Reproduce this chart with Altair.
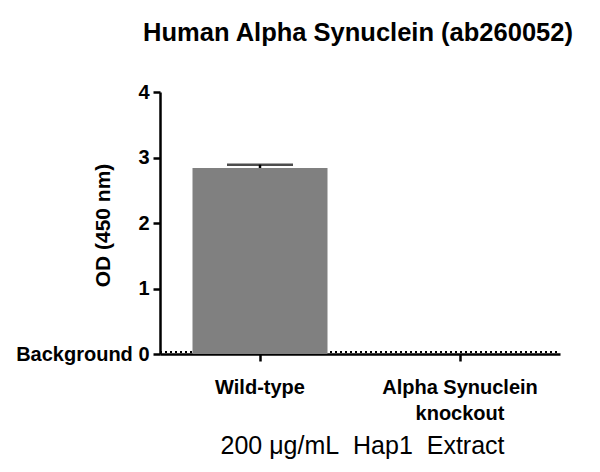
import altair as alt
import pandas as pd

categories = ["Wild-type", "Alpha Synuclein knockout"]
od_mean = [2.84, 0.0]
od_sem = [0.05, 0.0]
background_od = 0.03
y_ticks = [0, 0.5, 1, 1.5, 2, 2.5, 3, 3.5, 4]

df = pd.DataFrame({"group": categories, "od": od_mean, "sem": od_sem})
df["hi"] = df["od"] + df["sem"]

FONT = "Liberation Sans"

x_enc = alt.X(
    "group:N",
    sort=categories,
    scale=alt.Scale(paddingInner=0.325, paddingOuter=0.1625),
    axis=alt.Axis(
        title="200 \u03bcg/mL\u00a0\u00a0Hap1\u00a0\u00a0Extract",
        titleFont=FONT, titleFontSize=25, titleFontWeight="normal",
        titleColor="black", titleX=202, titleY=99,
        titleAlign="center", titleBaseline="alphabetic",
        labelFont=FONT, labelFontSize=20, labelFontWeight="bold",
        labelColor="black", labelAngle=0, labelBaseline="alphabetic",
        labelPadding=32, labelLineHeight=26,
        labelExpr="datum.label == 'Alpha Synuclein knockout' ? ['Alpha Synuclein', 'knockout'] : datum.label",
        tickSize=7, tickWidth=2.5, tickColor="black",
        domainWidth=2.5, domainColor="black", grid=False,
    ),
)

y_scale = alt.Scale(domain=[0, 4], nice=False)
y_axis = alt.Axis(
    title="OD (450 nm)",
    titleFont=FONT, titleFontSize=21, titleFontWeight="bold", titleColor="black",
    titleX=-57, titleY=133, titleAngle=270, titleAlign="center", titleBaseline="middle",
    values=y_ticks,
    labelExpr="datum.value == 0 ? 'Background 0' : (datum.value % 1 == 0 ? format(datum.value, 'd') : '')",
    labelFont=FONT, labelFontSize=20, labelFontWeight="bold", labelColor="black",
    labelPadding=4, tickSize=7, tickWidth=2.5, tickColor="black",
    domainWidth=2.5, domainColor="black", grid=False,
)

base = alt.Chart(df)

background = alt.Chart(pd.DataFrame({"bg": [background_od]})).mark_rule(
    color="black", strokeWidth=2, strokeDash=[2, 3]
).encode(
    y=alt.Y("bg:Q", scale=y_scale, axis=y_axis),
    x=alt.value(0), x2=alt.value(400),
)

bars = base.mark_bar(color="#808080").encode(
    x=x_enc,
    y=alt.Y("od:Q", scale=y_scale, axis=y_axis),
)

err_stem = base.transform_filter("datum.sem > 0").mark_rule(
    color="black", strokeWidth=2.5
).encode(
    x=alt.X("group:N", sort=categories),
    y=alt.Y("od:Q", scale=y_scale),
    y2="hi:Q",
)

err_cap = base.transform_filter("datum.sem > 0").mark_tick(
    color="black", thickness=2.5, size=66, orient="horizontal"
).encode(
    x=alt.X("group:N", sort=categories),
    y=alt.Y("hi:Q", scale=y_scale),
)

chart = alt.layer(background, bars, err_stem, err_cap).properties(
    width=400,
    height=262,
    autosize=alt.AutoSizeParams(type="none"),
    padding={"left": 152, "top": 84, "right": 32, "bottom": 110},
    background="white",
    title=alt.TitleParams(
        "Human Alpha Synuclein (ab260052)",
        font=FONT, fontSize=25.5, fontWeight="bold", color="black",
        anchor="middle", frame="group", baseline="alphabetic", offset=16, dx=-2,
    ),
).configure_view(stroke="transparent", strokeWidth=0)

chart.save("out.html", embed_options={"renderer": "svg", "actions": False})
